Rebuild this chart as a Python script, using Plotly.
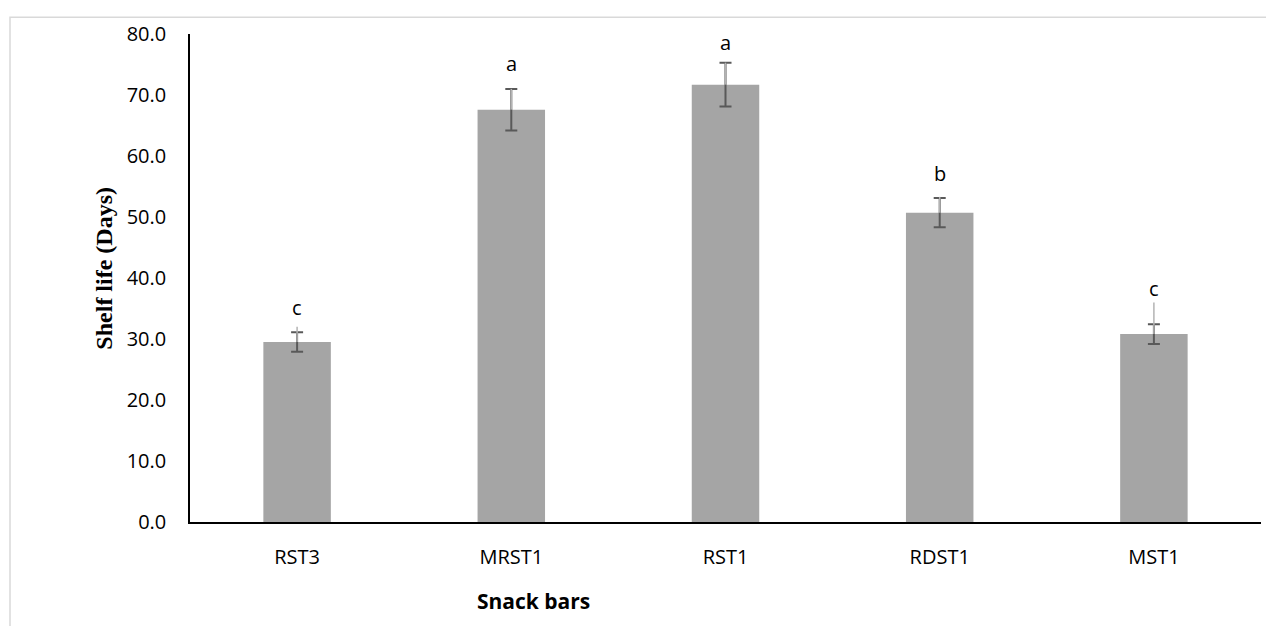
import plotly.graph_objects as go

categories = ["RST3", "MRST1", "RST1", "RDST1", "MST1"]
shelf_life = [29.5, 67.6, 71.7, 50.7, 30.8]
sd_error = [1.6, 3.4, 3.6, 2.4, 1.6]
upper_error = [2.5, 3.4, 3.6, 2.6, 5.2]
letters = ["c", "a", "a", "b", "c"]
letter_y = [35.1, 75.1, 78.6, 57.1, 38.2]

# plot area in page pixels (figure is drawn with an 8px page offset)
PL, PR, PT, PB = 190, 1261, 27, 522
PW, PH = PR - PL, PB - PT


def px(xp):
    return (xp - PL) / PW


def py(yp):
    return (PB - yp) / PH


fig = go.Figure()
fig.add_trace(go.Bar(
    x=categories, y=shelf_life,
    marker=dict(color="#a5a5a5", line=dict(width=0)),
    error_y=dict(type="data", array=sd_error, visible=True,
                 color="#595959", thickness=2, width=6),
    showlegend=False, hoverinfo="x+y",
))
fig.add_trace(go.Scatter(
    x=categories, y=shelf_life, mode="markers",
    marker=dict(size=1, opacity=0),
    error_y=dict(type="data", symmetric=False, array=upper_error,
                 arrayminus=[0] * len(categories), visible=True,
                 color="#b3b3b3", thickness=1.5, width=0),
    showlegend=False, hoverinfo="skip",
))
for c, t, yy in zip(categories, letters, letter_y):
    fig.add_annotation(x=c, y=yy, text=t, showarrow=False,
                       xanchor="center", yanchor="middle",
                       font=dict(family="Open Sans", size=20, color="black"),
                       xref="x", yref="y")

fig.add_annotation(x=px(533), y=py(602), xref="paper", yref="paper",
                   xanchor="center", yanchor="middle",
                   text="<b>Snack bars</b>", showarrow=False,
                   font=dict(family="Open Sans", size=21, color="black"))
fig.add_annotation(x=px(104), y=py(265), xref="paper", yref="paper",
                   xanchor="center", yanchor="middle",
                   text="<b>Shelf life (Days)</b>", showarrow=False, textangle=-90,
                   font=dict(family="Liberation Serif", size=24, color="black"))

fig.add_shape(type="rect", xref="paper", yref="paper",
              x0=px(10), x1=px(1268), y0=py(640), y1=py(10),
              line=dict(color="#d9d9d9", width=1.5), fillcolor="rgba(0,0,0,0)", layer="below")

fig.update_layout(
    width=1266, height=618,
    margin=dict(l=PL - 8, r=8 + 1266 - PR, t=PT - 8, b=8 + 618 - PB),
    paper_bgcolor="white", plot_bgcolor="white",
    bargap=0.685,
    font=dict(family="Open Sans", size=20, color="black"),
    xaxis=dict(showline=True, linecolor="black", linewidth=1.5, ticks="",
               showgrid=False, zeroline=False, ticklabelstandoff=16,
               tickfont=dict(family="Open Sans", size=20, color="black")),
    yaxis=dict(range=[0, 80], dtick=10, tickformat=".1f", showline=True,
               linecolor="black", linewidth=1.5, ticks="", showgrid=False,
               zeroline=False, ticklabelstandoff=18,
               tickfont=dict(family="Open Sans", size=20, color="black")),
)

fig.write_html("out.html")
